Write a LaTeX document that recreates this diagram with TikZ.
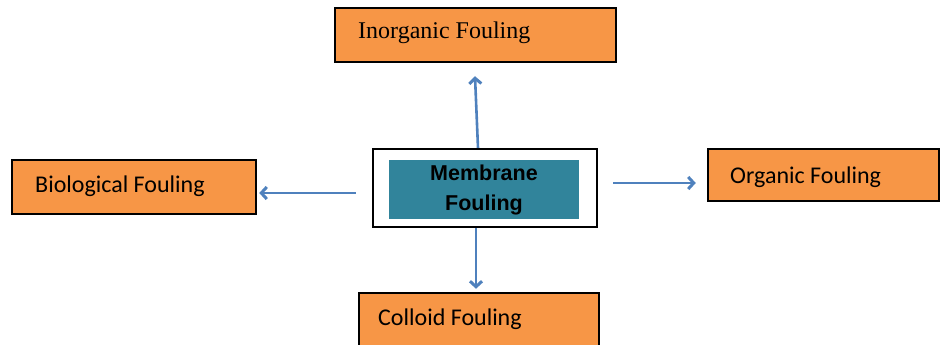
\documentclass[tikz,border=0pt]{standalone}
\usepackage{fontspec}
\setmainfont{Liberation Serif}
\newfontfamily\calibfont{Carlito}
\newfontfamily\arialfont{Liberation Sans}
\usetikzlibrary{arrows.meta,calc}
\definecolor{foul}{HTML}{F79646}
\definecolor{tealc}{HTML}{31849B}
\definecolor{arrowc}{HTML}{4F81BD}
\begin{document}
\begin{tikzpicture}[x=1pt,y=1pt,
  foulbox/.style={draw=black, line width=2.5pt, fill=foul, inner sep=0pt},
  lbl/.style={anchor=base west, inner sep=0pt, font=\calibfont\fontsize{24}{28}\selectfont},
  arr/.style={draw=arrowc, line width=2.6pt, -{Straight Barb[length=5.5pt,width=12pt,line width=3pt]}}]
\useasboundingbox (0,0) rectangle (940,345);

% outer boxes
\node[foulbox, minimum width=281, minimum height=54] (inorg) at (475.5,310) {};
\node[foulbox, minimum width=244, minimum height=54] (bio) at (134,158) {};
\node[foulbox, minimum width=231, minimum height=52] (org) at (823.5,170) {};
\node[foulbox, minimum width=240, minimum height=57] (col) at (479,23.5) {};

% centre box
\node[draw=black, line width=2.2pt, fill=white, minimum width=224, minimum height=78, inner sep=0pt] (mem) at (485,157) {};
\node[fill=tealc, minimum width=190, minimum height=59, inner sep=0pt, align=center,
      font=\arialfont\bfseries\fontsize{21.5}{31}\selectfont] (memtxt) at (484,155.5)
      {Membrane\\[-1pt]Fouling};

% labels
\node[lbl, font=\rmfamily\fontsize{24}{28}\selectfont] (inorgtxt) at (358,306) {Inorganic Fouling};
\node[lbl] (biotxt) at (35,152) {Biological Fouling};
\node[lbl] (orgtxt) at (730,161) {Organic Fouling};
\node[lbl] (coltxt) at (378,19) {Colloid Fouling};

% connectors
\draw[arr] ($(mem.north)+(-7,0)$) -- ($(inorg.south)+(-0.5,-13)$);
\draw[arr] ($(mem.west)+(-16,-5)$) -- ($(bio.east)+(2,-6)$);
\draw[arr] ($(mem.east)+(15,5)$) -- ($(org.west)+(-11,-8)$);
\draw[arr] ($(mem.south)+(-9,0)$) -- ($(col.north)+(-3,3)$);
\end{tikzpicture}
\end{document}
